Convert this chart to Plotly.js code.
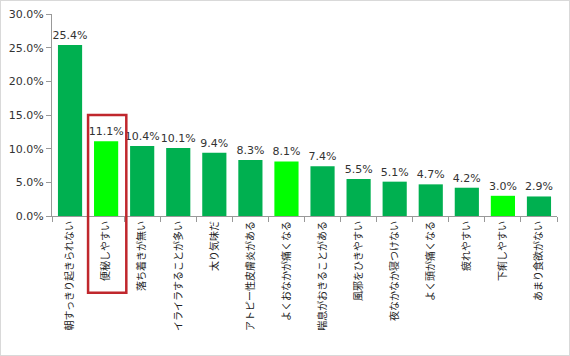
<!DOCTYPE html>
<html><head><meta charset="utf-8">
<script src="https://cdn.plot.ly/plotly-3.0.1.min.js"></script>
<style>
html,body{margin:0;padding:0;background:#fff;}
#wrap{width:570px;height:356px;box-sizing:border-box;border:1px solid #d9d9d9;}
#chart{width:568px;height:354px;}
</style></head>
<body><div id="wrap"><div id="chart"></div></div>
<script>
const categories = ["朝すっきり起きられない","便秘しやすい","落ち着きが無い","イライラすることが多い","太り気味だ","アトピー性皮膚炎がある","よくおなかが痛くなる","喘息がおきることがある","風邪をひきやすい","夜なかなか寝つけない","よく頭が痛くなる","疲れやすい","下痢しやすい","あまり食欲がない"];
const values = [25.4,11.1,10.4,10.1,9.4,8.3,8.1,7.4,5.5,5.1,4.7,4.2,3.0,2.9];
const highlighted = [false,true,false,false,false,false,true,false,false,false,false,false,true,false];
const darkGreen = "#00B050", lightGreen = "#00FF00";

const trace = {
  type: "bar",
  x: categories,
  y: values,
  marker: {color: highlighted.map(h => h ? lightGreen : darkGreen)},
  texttemplate: "%{y:.1f}%",
  textposition: "outside",
  constraintext: "none",
  cliponaxis: false,
  textfont: {family: "DejaVu Sans, Verdana, sans-serif", size: 11, color: "#333"},
  hoverinfo: "none"
};

const layout = {
  width: 568, height: 354,
  margin: {l: 51, r: 12, t: 13, b: 139},
  paper_bgcolor: "#fff", plot_bgcolor: "#fff",
  showlegend: false,
  bargap: 0.33,
  xaxis: {
    type: "category",
    tickangle: -90,
    tickson: "boundaries",
    ticks: "outside", ticklen: 5, tickcolor: "#999",
    showline: true, linecolor: "#999", linewidth: 1,
    showgrid: false,
    tickfont: {family: "Noto Sans CJK JP, sans-serif", size: 10, color: "#222"}
  },
  yaxis: {
    range: [0, 30],
    dtick: 5,
    tickformat: ".1f", ticksuffix: "%",
    ticks: "outside", ticklen: 5, tickcolor: "#999",
    showline: true, linecolor: "#999", linewidth: 1,
    showgrid: false, zeroline: false,
    tickfont: {family: "DejaVu Sans, Verdana, sans-serif", size: 11, color: "#333"}
  },
  shapes: [{
    type: "rect", xref: "x", yref: "paper",
    x0: 0.5, x1: 1.56, y0: -0.38, y1: 0.5,
    line: {color: "#C0272D", width: 2.5},
    fillcolor: "rgba(0,0,0,0)",
    layer: "above"
  }]
};

Plotly.newPlot("chart", [trace], layout, {displayModeBar: false, staticPlot: true});
</script></body></html>
